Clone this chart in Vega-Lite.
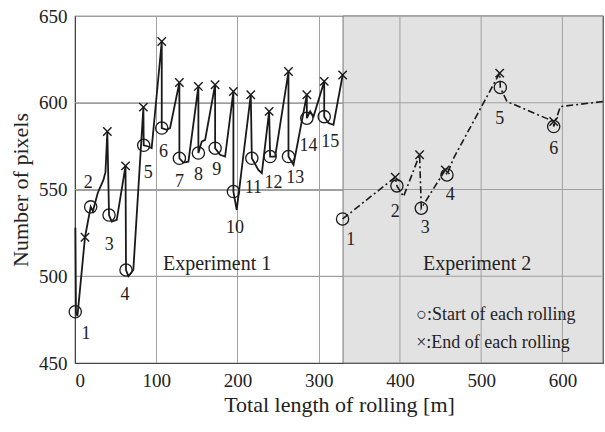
{
  "$schema": "https://vega.github.io/schema/vega-lite/v6.json",
  "width": 528,
  "height": 347,
  "autosize": {"type": "none"},
  "padding": {"left": 75, "top": 16, "right": 2, "bottom": 69},
  "background": "white",
  "config": {
    "view": {"stroke": "#444", "strokeWidth": 1.2},
    "font": "Liberation Serif",
    "axis": {
      "labelFont": "Liberation Serif",
      "labelFontSize": 19,
      "labelColor": "#222",
      "titleFont": "Liberation Serif",
      "titleFontSize": 22,
      "titleFontWeight": "normal",
      "titleColor": "#222",
      "gridColor": "#a0a0a0",
      "gridOpacity": 1,
      "gridWidth": 1,
      "domainColor": "#444",
      "tickSize": 0
    }
  },
  "datasets": {
    "region": [{"x0": 330, "x1": 650, "y0": 450, "y1": 650}],
    "vgrid": [{"x": 400}, {"x": 500}, {"x": 600}],
    "hgrid": [{"y": 500}, {"y": 550}, {"y": 600}],
    "exp1": [
      {"i": 1, "x": 0.5, "y": 528}, {"i": 2, "x": 1.2, "y": 479}, {"i": 3, "x": 3, "y": 477},
      {"i": 4, "x": 12.3, "y": 522.5}, {"i": 5, "x": 19.3, "y": 540}, {"i": 6, "x": 22, "y": 537.5},
      {"i": 7, "x": 28, "y": 548}, {"i": 8, "x": 35, "y": 555.5}, {"i": 9, "x": 37.5, "y": 560},
      {"i": 10, "x": 39.8, "y": 583.4}, {"i": 11, "x": 41.9, "y": 535.3}, {"i": 12, "x": 45.2, "y": 531.5},
      {"i": 13, "x": 51.4, "y": 532.5}, {"i": 14, "x": 62.2, "y": 563.6}, {"i": 15, "x": 62.8, "y": 503.6},
      {"i": 16, "x": 65.7, "y": 500}, {"i": 17, "x": 71.8, "y": 503.6}, {"i": 18, "x": 84.2, "y": 597.5},
      {"i": 19, "x": 84.6, "y": 575.5}, {"i": 20, "x": 90.3, "y": 574.8}, {"i": 21, "x": 94.4, "y": 573.8},
      {"i": 22, "x": 106.8, "y": 635.3}, {"i": 23, "x": 106.8, "y": 585.4}, {"i": 24, "x": 112.9, "y": 584.4},
      {"i": 25, "x": 117, "y": 585.4}, {"i": 26, "x": 128.5, "y": 611.7}, {"i": 27, "x": 128.5, "y": 568},
      {"i": 28, "x": 133.4, "y": 565.5}, {"i": 29, "x": 139.6, "y": 566}, {"i": 30, "x": 151.9, "y": 609.4},
      {"i": 31, "x": 151.9, "y": 571}, {"i": 32, "x": 156, "y": 577.6}, {"i": 33, "x": 160.2, "y": 578.6},
      {"i": 34, "x": 172.5, "y": 610.4}, {"i": 35, "x": 172.5, "y": 573.8}, {"i": 36, "x": 178.6, "y": 570},
      {"i": 37, "x": 184.8, "y": 569}, {"i": 38, "x": 195, "y": 606.5}, {"i": 39, "x": 195, "y": 548.8},
      {"i": 40, "x": 199.1, "y": 538.2}, {"i": 41, "x": 216.4, "y": 604.6}, {"i": 42, "x": 217.7, "y": 568},
      {"i": 43, "x": 225.7, "y": 561.3}, {"i": 44, "x": 230, "y": 559.4}, {"i": 45, "x": 239, "y": 595},
      {"i": 46, "x": 240.2, "y": 569}, {"i": 47, "x": 246.4, "y": 569}, {"i": 48, "x": 262.8, "y": 618},
      {"i": 49, "x": 262.8, "y": 569}, {"i": 50, "x": 269, "y": 564.2}, {"i": 51, "x": 285.4, "y": 604.6},
      {"i": 52, "x": 285.4, "y": 591.1}, {"i": 53, "x": 289.5, "y": 595}, {"i": 54, "x": 293.6, "y": 592},
      {"i": 55, "x": 306.8, "y": 612.3}, {"i": 56, "x": 306.8, "y": 592}, {"i": 57, "x": 312, "y": 588.3},
      {"i": 58, "x": 318.2, "y": 587.3}, {"i": 59, "x": 329.5, "y": 616}
    ],
    "exp2": [
      {"i": 1, "x": 329.4, "y": 533}, {"i": 2, "x": 394.2, "y": 557.1}, {"i": 3, "x": 396.3, "y": 552.1},
      {"i": 4, "x": 404.4, "y": 545.9}, {"i": 5, "x": 424.2, "y": 570}, {"i": 6, "x": 426.3, "y": 539.2},
      {"i": 7, "x": 455.8, "y": 561.3}, {"i": 8, "x": 457.9, "y": 558.4}, {"i": 9, "x": 466, "y": 568},
      {"i": 10, "x": 522.8, "y": 617.1}, {"i": 11, "x": 523.6, "y": 608.8}, {"i": 12, "x": 531.8, "y": 600.7},
      {"i": 13, "x": 589.3, "y": 589.2}, {"i": 14, "x": 589.3, "y": 586.3}, {"i": 15, "x": 597.5, "y": 597.8},
      {"i": 16, "x": 650, "y": 600.7}
    ],
    "starts": [
      {"x": 0.3, "y": 479.5}, {"x": 19.3, "y": 540}, {"x": 41.9, "y": 535.3}, {"x": 62.8, "y": 503.6},
      {"x": 84.6, "y": 575.5}, {"x": 106.8, "y": 585.4}, {"x": 128.5, "y": 568}, {"x": 151.9, "y": 571},
      {"x": 172.5, "y": 573.8}, {"x": 195, "y": 548.8}, {"x": 217.7, "y": 568}, {"x": 240.2, "y": 569},
      {"x": 262.8, "y": 569}, {"x": 285.4, "y": 591.1}, {"x": 306.8, "y": 592},
      {"x": 329.4, "y": 533}, {"x": 396.3, "y": 552.1}, {"x": 426.3, "y": 539.2}, {"x": 457.9, "y": 558.4},
      {"x": 523.6, "y": 608.8}, {"x": 589.3, "y": 586.3}
    ],
    "ends": [
      {"x": 12.3, "y": 522.5}, {"x": 39.8, "y": 583.4}, {"x": 62.2, "y": 563.6}, {"x": 84.2, "y": 597.5},
      {"x": 106.8, "y": 635.3}, {"x": 128.5, "y": 611.7}, {"x": 151.9, "y": 609.4}, {"x": 172.5, "y": 610.4},
      {"x": 195, "y": 606.5}, {"x": 216.4, "y": 604.6}, {"x": 239, "y": 595}, {"x": 262.8, "y": 618},
      {"x": 285.4, "y": 604.6}, {"x": 306.8, "y": 612.3}, {"x": 329.5, "y": 616},
      {"x": 394.2, "y": 557.1}, {"x": 424.2, "y": 570}, {"x": 455.8, "y": 561.3}, {"x": 522.8, "y": 617.1},
      {"x": 589.3, "y": 589.2}
    ],
    "labels": [
      {"x": 13.5, "y": 467, "t": "1"}, {"x": 16.4, "y": 553.6, "t": "2"}, {"x": 42.3, "y": 518, "t": "3"},
      {"x": 61.6, "y": 489.2, "t": "4"}, {"x": 90.3, "y": 559.4, "t": "5"}, {"x": 108.8, "y": 571.9, "t": "6"},
      {"x": 128.5, "y": 554.6, "t": "7"}, {"x": 151.9, "y": 558.4, "t": "8"}, {"x": 174.6, "y": 561.3, "t": "9"},
      {"x": 197.1, "y": 527.7, "t": "10"}, {"x": 219.7, "y": 550.7, "t": "11"}, {"x": 244.3, "y": 553.6, "t": "12"},
      {"x": 271, "y": 556.5, "t": "13"}, {"x": 287.4, "y": 574.8, "t": "14"}, {"x": 314.2, "y": 577.6, "t": "15"},
      {"x": 339.6, "y": 520.9, "t": "1"}, {"x": 394.2, "y": 537.3, "t": "2"}, {"x": 431.2, "y": 527.7, "t": "3"},
      {"x": 461.9, "y": 546.9, "t": "4"}, {"x": 522.8, "y": 590.6, "t": "5"}, {"x": 589.3, "y": 573.3, "t": "6"}
    ],
    "notes": [
      {"x": 175, "y": 507, "t": "Experiment 1"},
      {"x": 495, "y": 507, "t": "Experiment 2"}
    ],
    "legend": [
      {"x": 420, "y": 477.6, "t": "○:Start of each rolling"},
      {"x": 420, "y": 461.5, "t": "×:End of each rolling"}
    ]
  },
  "layer": [
    {
      "data": {"name": "region"},
      "mark": {"type": "rect", "fill": "#e2e2e2", "stroke": "#777", "strokeWidth": 1},
      "encoding": {
        "x": {"field": "x0", "type": "quantitative", "scale": {"domain": [0, 650], "nice": false},
          "axis": {"values": [0, 100, 200, 300, 400, 500, 600], "title": "Total length of rolling [m]", "labelPadding": 8, "titlePadding": 4}},
        "x2": {"field": "x1"},
        "y": {"field": "y0", "type": "quantitative", "scale": {"domain": [450, 650], "nice": false},
          "axis": {"values": [450, 500, 550, 600, 650], "title": "Number of pixels", "labelPadding": 8, "titlePadding": 6}},
        "y2": {"field": "y1"}
      }
    },
    {
      "data": {"name": "vgrid"},
      "mark": {"type": "rule", "color": "#a0a0a0", "strokeWidth": 1},
      "encoding": {"x": {"field": "x", "type": "quantitative"}}
    },
    {
      "data": {"name": "hgrid"},
      "mark": {"type": "rule", "color": "#a0a0a0", "strokeWidth": 1},
      "encoding": {"y": {"field": "y", "type": "quantitative"}}
    },
    {
      "data": {"name": "exp1"},
      "mark": {"type": "line", "color": "#1a1a1a", "strokeWidth": 1.8},
      "encoding": {
        "x": {"field": "x", "type": "quantitative"},
        "y": {"field": "y", "type": "quantitative"},
        "order": {"field": "i", "type": "quantitative"}
      }
    },
    {
      "data": {"name": "exp2"},
      "mark": {"type": "line", "color": "#1a1a1a", "strokeWidth": 1.6, "strokeDash": [7, 3, 2, 3], "clip": true},
      "encoding": {
        "x": {"field": "x", "type": "quantitative"},
        "y": {"field": "y", "type": "quantitative"},
        "order": {"field": "i", "type": "quantitative"}
      }
    },
    {
      "data": {"name": "starts"},
      "mark": {"type": "point", "shape": "circle", "filled": false, "size": 150, "color": "#1a1a1a", "strokeWidth": 1.3, "opacity": 1},
      "encoding": {
        "x": {"field": "x", "type": "quantitative"},
        "y": {"field": "y", "type": "quantitative"}
      }
    },
    {
      "data": {"name": "ends"},
      "mark": {"type": "point", "shape": "M-1,-1L1,1M-1,1L1,-1", "filled": false, "size": 70, "color": "#1a1a1a", "strokeWidth": 1.4, "opacity": 1},
      "encoding": {
        "x": {"field": "x", "type": "quantitative"},
        "y": {"field": "y", "type": "quantitative"}
      }
    },
    {
      "data": {"name": "labels"},
      "mark": {"type": "text", "font": "Liberation Serif", "fontSize": 18, "color": "#222", "align": "center", "baseline": "middle"},
      "encoding": {
        "x": {"field": "x", "type": "quantitative"},
        "y": {"field": "y", "type": "quantitative"},
        "text": {"field": "t"}
      }
    },
    {
      "data": {"name": "notes"},
      "mark": {"type": "text", "font": "Liberation Serif", "fontSize": 20, "color": "#222", "align": "center", "baseline": "middle"},
      "encoding": {
        "x": {"field": "x", "type": "quantitative"},
        "y": {"field": "y", "type": "quantitative"},
        "text": {"field": "t"}
      }
    },
    {
      "data": {"name": "legend"},
      "mark": {"type": "text", "font": "Liberation Serif", "fontSize": 18, "color": "#222", "align": "left", "baseline": "middle"},
      "encoding": {
        "x": {"field": "x", "type": "quantitative"},
        "y": {"field": "y", "type": "quantitative"},
        "text": {"field": "t"}
      }
    }
  ]
}
